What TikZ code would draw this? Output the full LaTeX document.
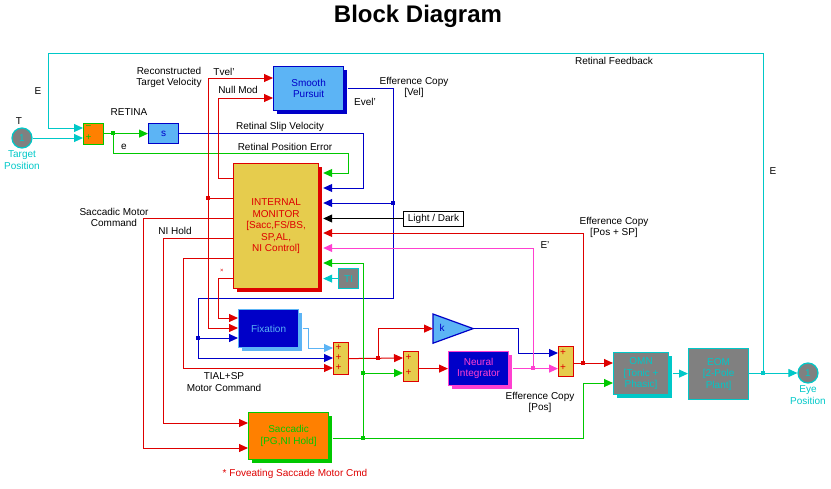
\documentclass[tikz,border=0pt]{standalone}
\usepackage{fontspec}
\setmainfont{Liberation Sans}
\usepackage{xcolor}
\usetikzlibrary{arrows.meta, positioning, shadows}

\definecolor{slcyan}{RGB}{0,200,200}
\definecolor{slgreen}{RGB}{0,200,0}
\definecolor{slred}{RGB}{222,0,0}
\definecolor{slblue}{RGB}{0,0,200}
\definecolor{sllight}{RGB}{92,180,245}
\definecolor{slpink}{RGB}{255,64,208}
\definecolor{slorange}{RGB}{255,128,0}
\definecolor{slgray}{RGB}{128,128,128}
\definecolor{slyellow}{RGB}{230,204,77}

\begin{document}
\begin{tikzpicture}[x=1pt, y=-1pt,
    every node/.style={font=\fontsize{10}{11.5}\selectfont, align=center, inner sep=1pt},
    block/.style={rectangle, anchor=north west, line width=1.2pt, inner sep=0pt},
    wire/.style={line width=1pt},
    into/.style={-{Triangle[length=9pt, width=8pt]}},
    dot/.style={rectangle, fill, inner sep=0pt, minimum size=3.5pt},
    sgn/.style={inner sep=0pt, text=slred},
    port/.style={circle, fill=slgray, draw=slcyan, line width=1.2pt,
                 minimum size=20pt, inner sep=0pt, text=slcyan},
    shade/.style={drop shadow={shadow xshift=3.5pt, shadow yshift=-3.5pt,
                  opacity=1, fill=#1}}
]
\useasboundingbox (0,0) rectangle (831,488);

\node[font=\fontsize{24}{28}\selectfont\bfseries] (title) at (418,16) {Block Diagram};

% --- ports ---
\node[port] (tgt) at (22,138) {1};
\node (tgtT) at (19,121) {T};
\node[below=1pt of tgt, text=slcyan] (tgtL) {Target\\Position};
\node[port] (eye) at (808,373) {1};
\node[below=1pt of eye, text=slcyan] (eyeL) {Eye\\Position};

% --- blocks ---
\node[block, fill=slorange, draw=slgreen, minimum width=20pt, minimum height=21pt] (sumE) at (83,122.5) {};
\node[sgn, text=slgreen] (sumEm) at (88.5,128) {−};
\node[sgn, text=slgreen] (sumEp) at (88.5,138) {+};
\node[block, fill=sllight, draw=slblue, text=slblue, minimum width=30pt, minimum height=20pt] (deriv) at (148,123) {s};
\node[block, fill=sllight, draw=slblue, text=slblue, minimum width=70pt, minimum height=44pt, shade=slblue] (sp) at (273,66) {Smooth\\Pursuit};
\node[block, fill=slyellow, draw=slred, text=slred, minimum width=85pt, minimum height=125pt, shade=slred] (im) at (233,163)
    {INTERNAL\\MONITOR\\{}[Sacc,FS/BS,\\SP,AL,\\NI Control]};
\coordinate (imR) at ([xshift=4pt]im.east);
\node[block, fill=white, draw=black, line width=1pt, minimum width=60pt, minimum height=15pt] (ld) at (403,210.5) {Light / Dark};
\node[block, fill=slgray, draw=slcyan, text=slcyan, minimum width=20pt, minimum height=20pt] (ti) at (338,268) {TI};
\node[block, fill=slblue, draw=sllight, text=sllight, minimum width=60pt, minimum height=38pt, shade=sllight] (fix) at (238,309) {Fixation};
\node[block, fill=slyellow, draw=slred, minimum width=15pt, minimum height=32pt] (sum3) at (333,342) {};
\node[block, fill=slyellow, draw=slred, minimum width=15pt, minimum height=30pt] (sum2) at (403,351) {};
\node[block, minimum width=39pt, minimum height=28pt] (gain) at (433,314) {};
\draw[line width=1.2pt, fill=sllight, draw=slblue] (gain.north west) -- (gain.east) -- (gain.south west) -- cycle;
\node[text=slblue] (gaink) at (442,328) {k};
\node[block, fill=slblue, draw=slpink, text=slpink, minimum width=60pt, minimum height=34pt, shade=slpink] (ni) at (448,351) {Neural\\Integrator};
\node[block, fill=slyellow, draw=slred, minimum width=15pt, minimum height=30pt] (sum4) at (558,346) {};
\node[block, fill=slgray, draw=slcyan, text=slcyan, minimum width=55pt, minimum height=42pt, shade=slcyan] (omn) at (613,352) {OMN\\{}[Tonic +\\Phasic]};
\node[block, fill=slgray, draw=slcyan, text=slcyan, minimum width=60pt, minimum height=51pt] (eom) at (688,348) {EOM\\{}[2-Pole\\Plant]};
\node[block, fill=slorange, draw=slgreen, text=slgreen, minimum width=80pt, minimum height=47pt, shade=slgreen] (sacc) at (248,412) {Saccadic\\{}[PG,NI Hold]};

% sum signs
\foreach \y [count=\i] in {348,358,368} \node[sgn] (sum3p\i) at (338.5,\y) {+};
\foreach \y [count=\i] in {358,373} \node[sgn] (sum2p\i) at (408.5,\y) {+};
\foreach \y [count=\i] in {353,368} \node[sgn] (sum4p\i) at (563,\y) {+};

% --- branch points ---
\node[dot, slgreen] (eB) at (113,133) {};
\node[dot, slblue] (vD) at (393,203) {};
\node[dot, slblue] (fD) at (198,338) {};
\node[dot, slred] (tD) at (208,198) {};
\node[dot, slred] (kD) at (378,358) {};
\node[dot, slgreen] (gD1) at (363,438) {};
\node[dot, slgreen] (gD2) at (363,373) {};
\node[dot, slpink] (pD) at (533,368) {};
\node[dot, slred] (rD) at (583,363) {};
\node[dot, slcyan] (eD) at (763,373) {};

% --- retina ---
\draw[wire, into, slcyan] (tgt) -- (sumE.west |- tgt);
\draw[wire, into, slcyan] (eD.center) |- (48,53) |- (sumE.west |- 0,128);
\draw[wire, into, slgreen] (sumE.east) -- (deriv.west);
\draw[wire, into, slgreen] (eB.center) |- (348,153) |- (imR |- 0,173);
\draw[wire, into, slblue] (deriv.east) -| (363,188) -- (imR |- 0,188);

% --- smooth pursuit efference copy ---
\draw[wire, slblue] ([xshift=3.5pt]sp.east) -| (vD.center);
\draw[wire, into, slblue] (vD.center) -- (imR |- vD);
\draw[wire, slblue] (vD.center) -- ++(0,95) -| (fD.center);
\draw[wire, into, slblue] (fD.center) -- (fix.west |- fD);
\draw[wire, into, slblue] (fD.center) |- (sum3.west |- 0,358);

% --- internal monitor outputs ---
\draw[wire, slred] (im.west |- tD) -- (tD.center);
\draw[wire, into, slred] (tD.center) |- (sp.west |- 0,78);
\draw[wire, into, slred] (tD.center) |- (fix.west |- 0,328);
\draw[wire, into, slred] (im.west |- 0,178) -| (218,98) -- (sp.west |- 0,98);
\draw[wire, into, slred] (im.west |- 0,218) -| (143,448) -- (sacc.west |- 0,448);
\draw[wire, into, slred] (im.west |- 0,238) -| (163,423) -- (sacc.west |- 0,423);
\draw[wire, into, slred] (im.west |- 0,258) -| (183,368) -- (sum3.west |- 0,368);
\draw[wire, into, slred] (im.west |- 0,278) -| (218,318) -- (fix.west |- 0,318);
\draw[wire, into, black] (ld.west) -- (imR |- ld);
\draw[wire, into, slcyan] (ti.west) -- (imR |- ti);

% --- motor path ---
\draw[wire, into, sllight] ([xshift=3.5pt]fix.east) -| (308,348) -- (sum3.west |- 0,348);
\draw[wire, into, slred] (sum3.east) -- (sum2.west |- 0,358);
\draw[wire, into, slred] (kD.center) |- (gain.west);
\draw[wire, slgreen] ([xshift=3.5pt]sacc.east |- gD1) -- (gD1.center);
\draw[wire, into, slgreen] (gD1.center) -| (583,383) -- (omn.west |- 0,383);
\draw[wire, into, slgreen] (gD1.center) |- (imR |- 0,263);
\draw[wire, into, slgreen] (gD2.center) -- (sum2.west |- gD2);
\draw[wire, into, slblue] (gain.east) -| (518,353) -- (sum4.west |- 0,353);
\draw[wire, into, slred] (sum2.east |- ni) -- (ni.west);
\draw[wire, into, slpink] ([xshift=3.5pt]ni.east) -- (sum4.west |- ni);
\draw[wire, into, slpink] (pD.center) |- (imR |- 0,248);
\draw[wire, slred] (sum4.east |- rD) -- (rD.center);
\draw[wire, into, slred] (rD.center) -- (omn.west |- rD);
\draw[wire, into, slred] (rD.center) |- (imR |- 0,233);
\draw[wire, into, slcyan] ([xshift=3.5pt]omn.east) -- (eom.west |- omn);
\draw[wire, into, slcyan] (eom.east |- eD) -- (eye);

% --- labels ---
\node (lblE) at (38,91) {E};
\node (lblRet) at (129,112) {RETINA};
\node (lble) at (124,147) {e};
\node (lblRTV) at (169,77.5) {Reconstructed\\Target Velocity};
\node (lblTvel) at (224,72) {Tvel'};
\node (lblNull) at (238,90) {Null Mod};
\node (lblEvel) at (365,102) {Evel'};
\node (lblECV) at (414,87.5) {Efference Copy\\{}[Vel]};
\node (lblRSV) at (280,127) {Retinal Slip Velocity};
\node (lblRPE) at (285,147) {Retinal Position Error};
\node (lblRF) at (614,61) {Retinal Feedback};
\node (lblE2) at (773,171) {E};
\node (lblSMC) at (114,217.5) {Saccadic Motor\\Command};
\node (lblNIH) at (175,231) {NI Hold};
\node (lblECPS) at (614,227.5) {Efference Copy\\{}[Pos + SP]};
\node (lblEp) at (545,245) {E'};
\node (lblTIAL) at (224,382) {TIAL+SP\\Motor Command};
\node (lblECP) at (540,402.5) {Efference Copy\\{}[Pos]};
\node[text=slred] (lblFov) at (295,474) {* Foveating Saccade Motor Cmd};
\node[text=slred, font=\fontsize{6}{6}\selectfont] (lblStar) at (222,271) {×};
\end{tikzpicture}
\end{document}
